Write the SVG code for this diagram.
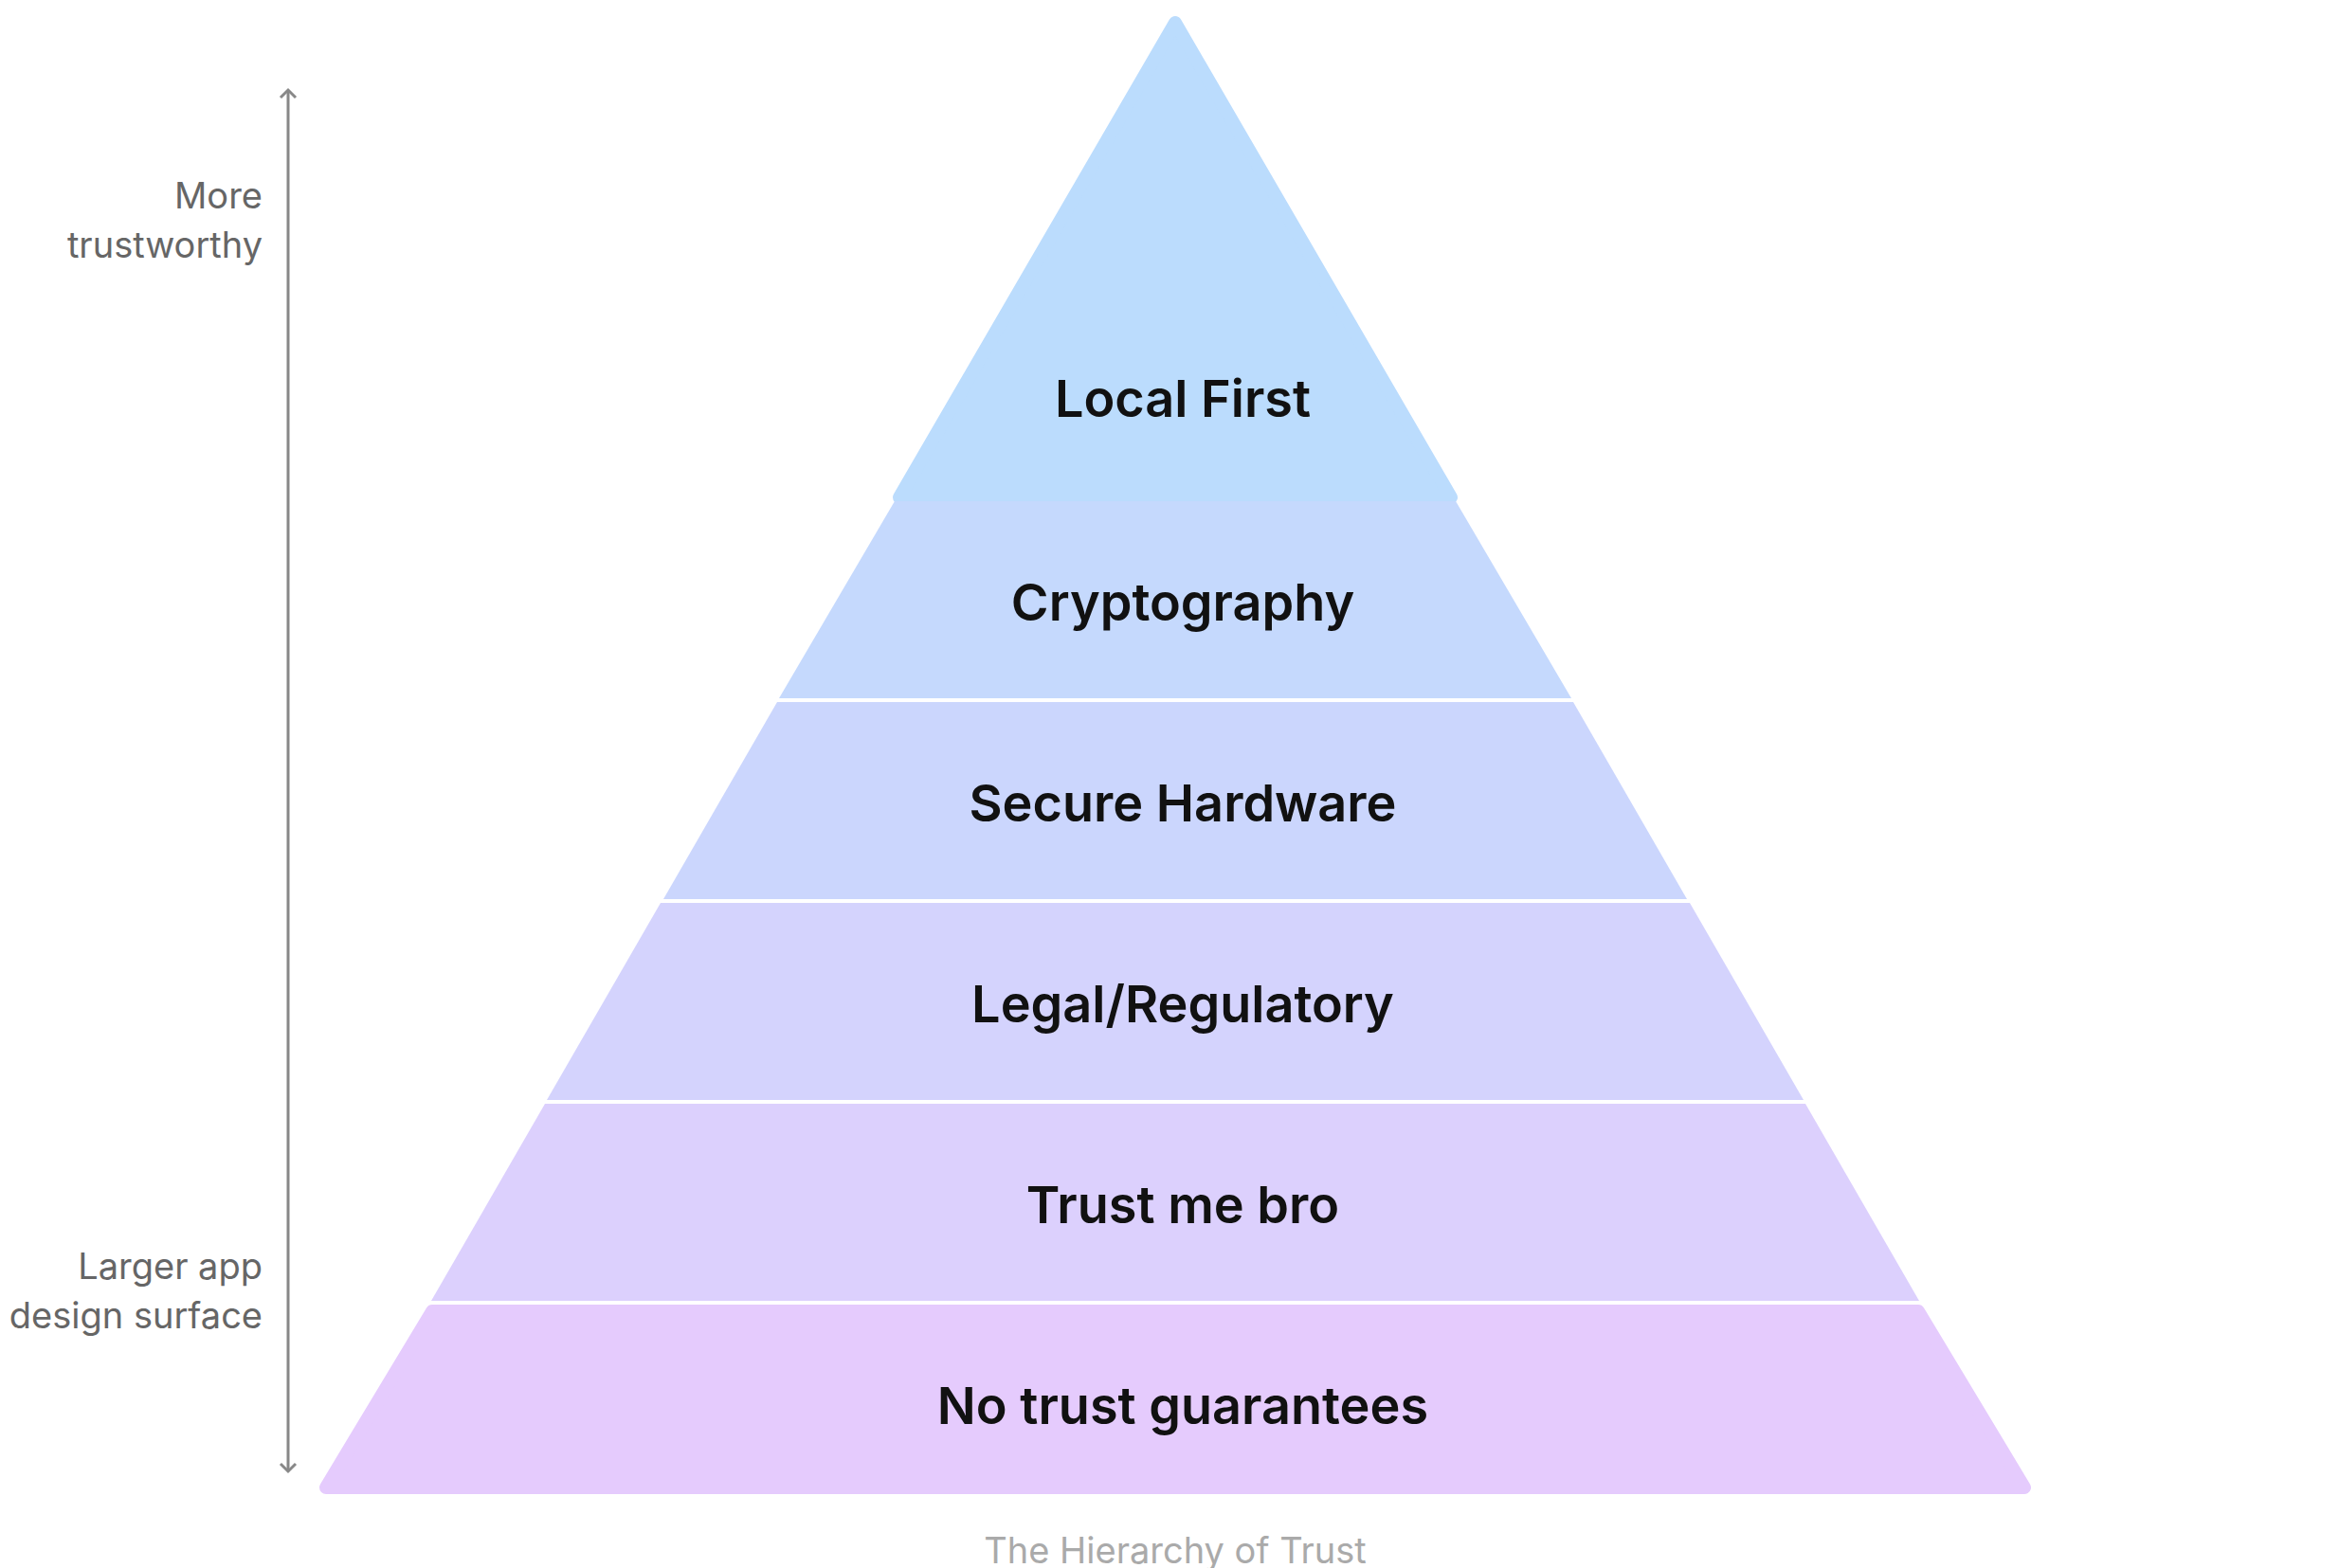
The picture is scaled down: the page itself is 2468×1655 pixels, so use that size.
<svg xmlns="http://www.w3.org/2000/svg" width="2468" height="1655" viewBox="0 0 2468 1655">
<style>
.l{font-family:Inter,"Noto Sans",sans-serif;font-weight:600;font-size:54px;fill:#111;text-anchor:middle}
.s{font-family:Inter,"Noto Sans",sans-serif;font-size:38px;fill:#666;text-anchor:end}
.b{stroke-linejoin:round;stroke-width:14}
</style>
<defs><marker id="ah" viewBox="0 0 20 20" refX="10" refY="10" markerWidth="20" markerHeight="20" markerUnits="userSpaceOnUse" orient="auto-start-reverse"><path d="M2 2 L10 10 L2 18" fill="none" stroke="#888" stroke-width="3"/></marker></defs>
<rect width="2468" height="1655" fill="#fff"/>
<g id="layer1"><polygon class="b" points="1240,24 1531,525 949,525" fill="#bbdcfd" stroke="#bbdcfd"/><text class="l" x="1248" y="440">Local First</text></g>
<g id="layer2"><polygon points="944,529 1536,529 1658,737 822,737" fill="#c5d9fd"/><text class="l" x="1248" y="655">Cryptography</text></g>
<g id="layer3"><polygon points="820,741 1660,741 1780,949 700,949" fill="#cbd6fd"/><text class="l" x="1248" y="867">Secure Hardware</text></g>
<g id="layer4"><polygon points="697,953 1783,953 1903,1161 577,1161" fill="#d4d3fd"/><text class="l" x="1248" y="1079">Legal/Regulatory</text></g>
<g id="layer5"><polygon points="575,1165 1905,1165 2025,1373 455,1373" fill="#dcd0fd"/><text class="l" x="1248" y="1291">Trust me bro</text></g>
<g id="layer6"><polygon class="b" points="456,1384 2024,1384 2136,1570 344,1570" fill="#e5cbfd" stroke="#e5cbfd"/><text class="l" x="1248" y="1503">No trust guarantees</text></g>
<g id="connectors"><line x1="304" y1="95" x2="304" y2="1553" stroke="#888" stroke-width="3" marker-start="url(#ah)" marker-end="url(#ah)"/></g>
<g id="labels">
<text class="s" x="277" y="220">More</text><text class="s" x="277" y="272">trustworthy</text>
<text class="s" x="277" y="1350">Larger app</text><text class="s" x="277" y="1402">design surface</text>
<text x="1240" y="1650" font-family="Inter,'Noto Sans',sans-serif" font-size="38" fill="#aaa" text-anchor="middle">The Hierarchy of Trust</text>
</g>
</svg>
